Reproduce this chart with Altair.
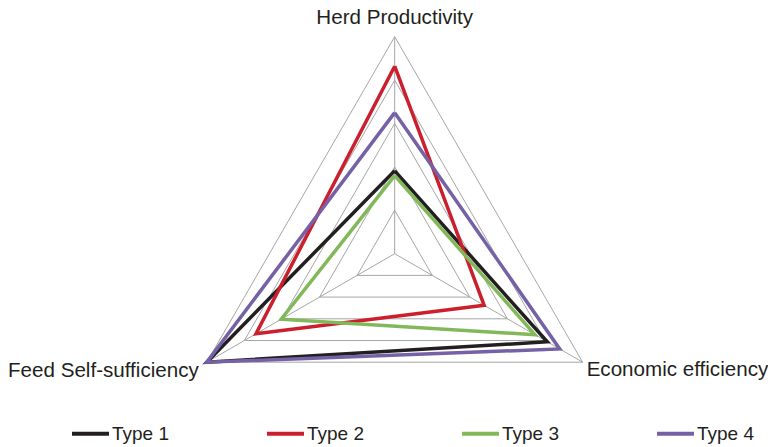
import altair as alt
import pandas as pd

# ---- data ----
axes_names = ["Herd Productivity", "Economic efficiency", "Feed Self-sufficiency"]
types = ["Type 1", "Type 2", "Type 3", "Type 4"]
type1 = [1.91, 4.06, 5.00]
type2 = [4.32, 2.38, 3.69]
type3 = [1.80, 3.73, 3.02]
type4 = [3.25, 4.39, 5.00]
levels = [1, 2, 3, 4, 5]
colors = ["#231f20", "#cc1f2e", "#82b85a", "#7461a6"]

# ---- tables ----
series_rows = []
for t, vals in zip(types, [type1, type2, type3, type4]):
    for k in range(len(axes_names) + 1):
        series_rows.append({"type": t, "k": k, "value": vals[k % len(axes_names)]})
series_df = pd.DataFrame(series_rows)

grid_rows = []
for lv in levels:
    for k in range(len(axes_names) + 1):
        grid_rows.append({"level": lv, "k": k, "value": lv})
grid_df = pd.DataFrame(grid_rows)

spoke_df = pd.DataFrame({"k": list(range(len(axes_names))), "value": [max(levels)] * len(axes_names)})
label_df = pd.DataFrame({"k": list(range(len(axes_names))), "axis": axes_names, "value": [max(levels)] * len(axes_names)})

# ---- geometry of the plot (scale set-up) ----
W, H = 760, 439
cx_px, cy_px = 386.7, 245.7
unit = 43.4
xdom = [-cx_px / unit, (W - cx_px) / unit]
ydom = [-(H - cy_px) / unit, cy_px / unit]

xs = alt.Scale(domain=xdom, nice=False, zero=False)
ys = alt.Scale(domain=ydom, nice=False, zero=False)

xcalc = "datum.value * cos(PI / 2 - datum.k * 2 * PI / 3)"
ycalc = "datum.value * sin(PI / 2 - datum.k * 2 * PI / 3)"

grid = alt.Chart(grid_df).transform_calculate(x=xcalc, y=ycalc).mark_line(
    color="#a6a6a6", strokeWidth=1, strokeJoin="miter"
).encode(
    x=alt.X("x:Q", scale=xs, axis=None),
    y=alt.Y("y:Q", scale=ys, axis=None),
    detail="level:N",
    order=alt.Order("k:Q"),
)

spokes = alt.Chart(spoke_df).transform_calculate(x=xcalc, y=ycalc, cx="0", cy="0").mark_rule(
    color="#a6a6a6", strokeWidth=1
).encode(
    x=alt.X("cx:Q", scale=xs, axis=None),
    y=alt.Y("cy:Q", scale=ys, axis=None),
    x2="x:Q",
    y2="y:Q",
)

lines = alt.Chart(series_df).transform_calculate(x=xcalc, y=ycalc).mark_line(
    strokeWidth=3.5, strokeJoin="miter"
).encode(
    x=alt.X("x:Q", scale=xs, axis=None),
    y=alt.Y("y:Q", scale=ys, axis=None),
    color=alt.Color(
        "type:N",
        scale=alt.Scale(domain=types, range=colors),
        legend=alt.Legend(
            title=None,
            orient="none",
            legendX=62,
            legendY=405,
            direction="horizontal",
            symbolType="stroke",
            symbolSize=1369,
            symbolStrokeWidth=4,
            labelFont="Liberation Sans",
            labelFontSize=19,
            labelColor="#231f20",
            labelOffset=1,
            columnPadding=89,
        ),
    ),
    order=alt.Order("k:Q"),
)

def label_layer(k, align, dx, dy):
    return alt.Chart(label_df).transform_filter(f"datum.k == {k}").transform_calculate(
        x=xcalc, y=ycalc
    ).mark_text(
        font="Liberation Sans", fontSize=20.6, color="#231f20", align=align,
        baseline="alphabetic", dx=dx, dy=dy
    ).encode(
        x=alt.X("x:Q", scale=xs, axis=None),
        y=alt.Y("y:Q", scale=ys, axis=None),
        text="axis:N",
    )

labels = label_layer(0, "center", 0, -13) + label_layer(1, "left", 4, 14) + label_layer(2, "right", -8, 15)

chart = alt.layer(grid, spokes, lines, labels).properties(
    width=W, height=H,
    autosize=alt.AutoSizeParams(type="none"),
    padding=0,
    background="white",
).configure_view(strokeWidth=0)

chart.save("out.html", embed_options={"renderer": "svg", "actions": False})
